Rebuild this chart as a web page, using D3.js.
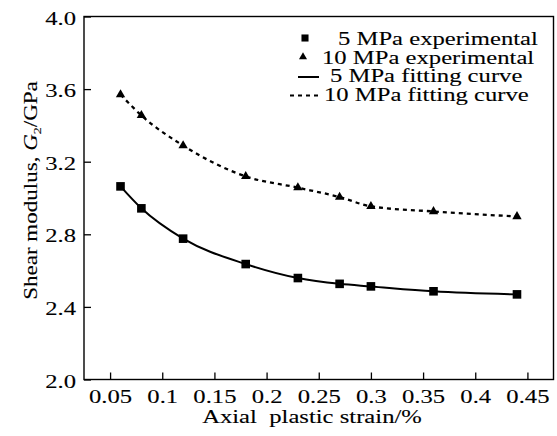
<!DOCTYPE html>
<html>
<head>
<meta charset="utf-8">
<script src="https://cdn.jsdelivr.net/npm/d3@7"></script>
<style>
  body { margin: 0; background: #fff; }
  svg { display: block; }
  text { font-family: "Liberation Serif", "Times New Roman", serif; fill: #000; stroke: #000; stroke-width: 0.1px; }
</style>
</head>
<body>
<svg id="chart" width="557" height="436"></svg>
<script>
// ---- data ----
const strain = [0.06, 0.08, 0.12, 0.18, 0.23, 0.27, 0.30, 0.36, 0.44];
const g5MPa  = [3.064, 2.943, 2.776, 2.636, 2.559, 2.527, 2.513, 2.486, 2.469];
const g10MPa = [3.570, 3.455, 3.289, 3.119, 3.057, 3.005, 2.954, 2.926, 2.898];
const xTicks = [0.05, 0.1, 0.15, 0.2, 0.25, 0.3, 0.35, 0.4, 0.45];
const xTickLabels = ["0.05", "0.1", "0.15", "0.2", "0.25", "0.3", "0.35", "0.4", "0.45"];
const yTicks = [2.0, 2.4, 2.8, 3.2, 3.6, 4.0];
const yTickLabels = ["2.0", "2.4", "2.8", "3.2", "3.6", "4.0"];
const legendLabels = ["5 MPa experimental", "10 MPa experimental", "5 MPa fitting curve", "10 MPa fitting curve"];

// ---- layout ----
const svg = d3.select("#chart");
const L = 84, R = 553.5, T = 16.5, B = 379.5;
const SX = 1.37; // horizontal text stretch
const x = d3.scaleLinear().domain([0.025, 0.475]).range([L, R]);
const y = d3.scaleLinear().domain([2.0, 4.0]).range([B, T]);

// frame
svg.append("rect").attr("x", L).attr("y", T).attr("width", R - L).attr("height", B - T)
  .attr("fill", "none").attr("stroke", "#000").attr("stroke-width", 1.4);

// bottom axis (inward ticks)
const xAxis = d3.axisBottom(x).tickValues(xTicks).tickSizeInner(-7).tickSizeOuter(0)
  .tickFormat((d, i) => xTickLabels[i]);
const gx = svg.append("g").attr("transform", `translate(0,${B})`).call(xAxis);
gx.select(".domain").remove();
gx.selectAll(".tick line").attr("stroke", "#000").attr("stroke-width", 1.3);
gx.selectAll(".tick text").attr("y", 23.5).attr("dy", null)
  .attr("font-size", 18).attr("font-family", "Liberation Serif")
  .attr("transform", `scale(${SX},1)`);

// left axis (inward ticks)
const yAxis = d3.axisLeft(y).tickValues(yTicks).tickSizeInner(-7).tickSizeOuter(0)
  .tickFormat((d, i) => yTickLabels[i]);
const gy = svg.append("g").attr("transform", `translate(${L},0)`).call(yAxis);
gy.select(".domain").remove();
gy.selectAll(".tick line").attr("stroke", "#000").attr("stroke-width", 1.3);
gy.selectAll(".tick text").attr("x", -8 / SX).attr("dy", null).attr("y", 7.5)
  .attr("font-size", 18).attr("font-family", "Liberation Serif")
  .attr("transform", `scale(${SX},1)`);

// curves
const pts5 = strain.map((s, i) => [s, g5MPa[i]]);
const pts10 = strain.map((s, i) => [s, g10MPa[i]]);
const line = d3.line().x(d => x(d[0])).y(d => y(d[1])).curve(d3.curveMonotoneX);

svg.append("path").attr("d", line(pts5)).attr("fill", "none")
  .attr("stroke", "#000").attr("stroke-width", 2);
svg.append("path").attr("d", line(pts10)).attr("fill", "none")
  .attr("stroke", "#000").attr("stroke-width", 2.3).attr("stroke-dasharray", "4,4");

// markers
const sq = d3.symbol().type(d3.symbolSquare).size(74);
const tri = d3.symbol().type(d3.symbolTriangle).size(38);
svg.selectAll(".m5").data(pts5).enter().append("path")
  .attr("d", sq).attr("transform", d => `translate(${x(d[0])},${y(d[1])})`).attr("fill", "#000");
svg.selectAll(".m10").data(pts10).enter().append("path")
  .attr("d", tri).attr("transform", d => `translate(${x(d[0])},${y(d[1])})`).attr("fill", "#000");

// legend
const legBase = [45, 63.5, 82, 100.5];
const legTextX = [338, 322, 330, 324];
const leg = svg.append("g");
legendLabels.forEach((t, i) => {
  leg.append("text").attr("transform", `translate(${legTextX[i]},${legBase[i]}) scale(${SX},1)`)
    .attr("font-size", 18).text(t);
});
leg.append("path").attr("d", d3.symbol().type(d3.symbolSquare).size(50)())
  .attr("transform", `translate(305,${legBase[0] - 7})`).attr("fill", "#000");
leg.append("path").attr("d", d3.symbol().type(d3.symbolTriangle).size(28)())
  .attr("transform", `translate(303,${legBase[1] - 6.5})`).attr("fill", "#000");
leg.append("line").attr("x1", 298).attr("x2", 319).attr("y1", legBase[2] - 5).attr("y2", legBase[2] - 5)
  .attr("stroke", "#000").attr("stroke-width", 2);
leg.append("line").attr("x1", 290).attr("x2", 320).attr("y1", legBase[3] - 5).attr("y2", legBase[3] - 5)
  .attr("stroke", "#000").attr("stroke-width", 2).attr("stroke-dasharray", "4,4");

// axis titles
svg.append("text").attr("transform", `translate(312,423) scale(${SX},1)`)
  .attr("text-anchor", "middle").attr("font-size", 18)
  .attr("xml:space", "preserve").style("white-space", "pre")
  .text("Axial  plastic strain/%");

const yl = svg.append("text").attr("transform", `translate(37,190.5) rotate(-90) scale(1.28,1)`)
  .attr("text-anchor", "middle").attr("font-size", 18);
yl.append("tspan").text("Shear modulus, ");
yl.append("tspan").attr("font-style", "italic").text("G");
yl.append("tspan").attr("font-size", 11).attr("dy", 4).text("2");
yl.append("tspan").attr("dy", -4).text("/GPa");
</script>
</body>
</html>
